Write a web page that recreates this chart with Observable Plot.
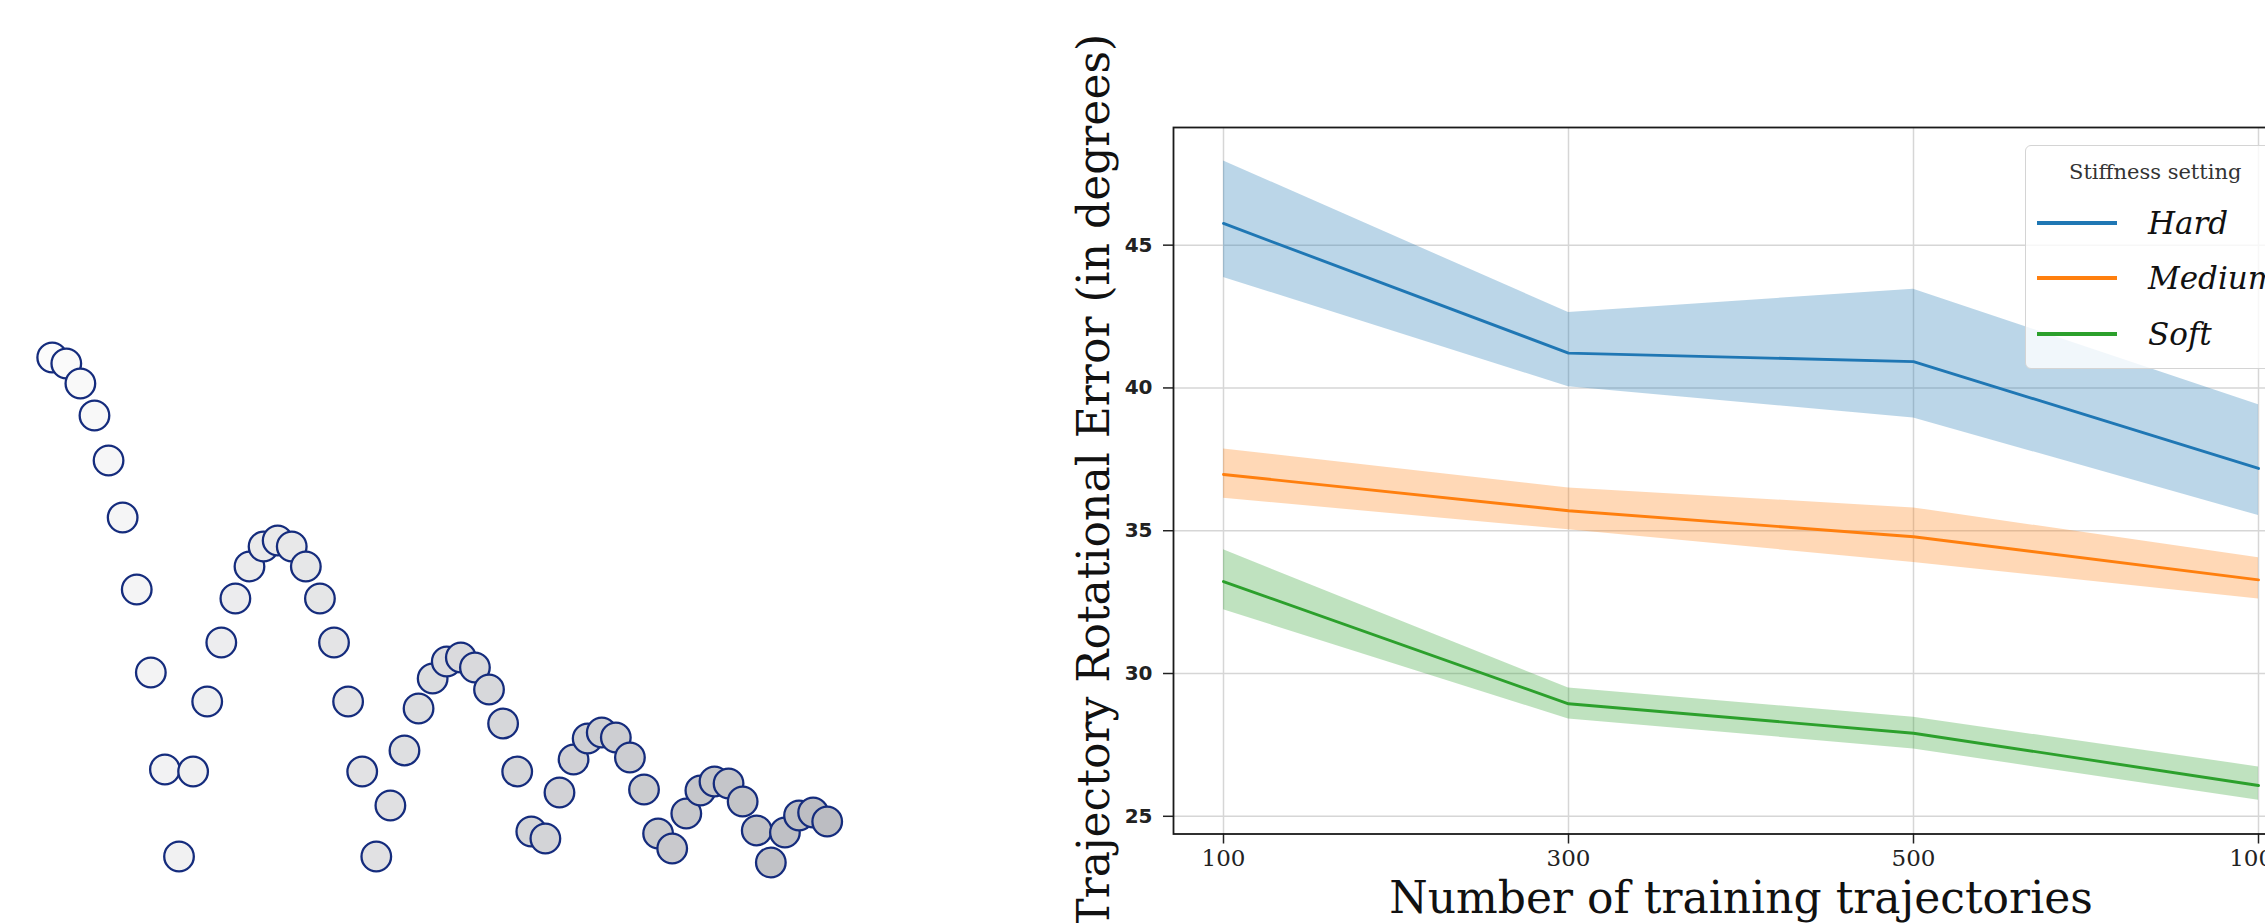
<!DOCTYPE html>
<html>
<head>
<meta charset="utf-8">
<script src="https://cdn.jsdelivr.net/npm/d3@7"></script>
<script src="https://cdn.jsdelivr.net/npm/@observablehq/plot@0.6"></script>
<style>
  html, body { margin: 0; padding: 0; background: #fff; overflow: hidden; width: 2265px; height: 923px; }
  #left { position: absolute; left: 0; top: 0; width: 1000px; }
  #right { position: absolute; left: 1030px; top: 0; width: 1300px; }
  #left svg, #right svg { max-width: none !important; display: block; }
  #legend { position: absolute; left: 2025px; top: 145px; width: 300px; height: 222px;
    border: 1.5px solid #d4d4d4; border-radius: 6px; background: rgba(255,255,255,0.8);
    font-family: "DejaVu Serif", serif; }
  #legend .title { position: absolute; left: 43px; top: 14px; font-size: 21px; color: #333; white-space: nowrap; }
  #legend .entry { position: absolute; left: 11px; height: 40px; white-space: nowrap; }
  #legend .swatch { position: absolute; left: 0; top: 18px; width: 80px; height: 3.5px; }
  #legend .lab { position: absolute; left: 111px; top: 0; font-size: 31px; font-style: italic; color: #111; line-height: 40px; }
</style>
</head>
<body>
<div id="left"></div>
<div id="right"></div>
<div id="legend"></div>
<script>
// ---- Left panel: bouncing trajectory (frame index, height) ----
const frameIndex = [0,1,2,3,4,5,6,7,8,9,10,11,12,13,14,15,16,17,18,19,20,21,22,23,24,25,26,27,
  28,29,30,31,32,33,34,35,36,37,38,39,40,41,42,43,44,45,46,47,48,49,50,51,52,53,54,55];
const ballHeight = [5.23,5.17,4.97,4.65,4.20,3.63,2.91,2.08,1.11,0.24,1.09,1.79,2.38,2.82,3.14,3.34,3.40,3.34,
  3.14,2.82,2.38,1.79,1.09,0.24,0.75,1.30,1.72,2.02,2.19,2.23,2.13,1.91,1.57,1.09,0.49,0.42,
  0.88,1.21,1.42,1.48,1.43,1.23,0.91,0.47,0.32,0.67,0.90,0.99,0.97,0.79,0.50,0.18,0.48,0.65,0.68,0.59];

// ---- Right panel: error vs number of training trajectories ----
const trainingSizes = ["100", "300", "500", "1000"];
const settings = ["Hard", "Medium", "Soft"];
const settingColors = ["#1f77b4", "#ff7f0e", "#2ca02c"];
const hardMean   = [45.76, 41.22, 40.92, 37.18];
const hardLow    = [43.87, 40.04, 38.95, 35.53];
const hardHigh   = [47.95, 42.64, 43.46, 39.41];
const mediumMean = [36.97, 35.70, 34.79, 33.28];
const mediumLow  = [36.14, 35.03, 33.89, 32.61];
const mediumHigh = [37.86, 36.50, 35.80, 34.05];
const softMean   = [33.22, 28.94, 27.91, 26.08];
const softLow    = [32.23, 28.41, 27.36, 25.56];
const softHigh   = [34.33, 29.49, 28.47, 26.73];
const yTicks = [25, 30, 35, 40, 45];
const yLabel = "Trajectory Rotational Error (in degrees)";
const xLabel = "Number of training trajectories";
const legendTitle = "Stiffness setting";

// left chart
const ballRows = frameIndex.map((f, i) => ({frame: f, h: ballHeight[i]}));
const left = Plot.plot({
  width: 1000, height: 923,
  margin: 0,
  x: {domain: [0, 55], range: [51.7, 826.7], axis: null},
  y: {domain: [0, 8.8], range: [880, 0], axis: null},
  color: {type: "linear", domain: [0, 55], range: ["#fbfbfb", "#bcbdc2"]},
  marks: [
    Plot.dot(ballRows, {x: "frame", y: "h", r: 14.8, fill: "frame", stroke: "#152c7d", strokeWidth: 2.3})
  ]
});
document.getElementById("left").append(left);

// right chart
const series = {Hard: [hardMean, hardLow, hardHigh], Medium: [mediumMean, mediumLow, mediumHigh], Soft: [softMean, softLow, softHigh]};
const rows = [];
for (const s of settings) {
  const [m, lo, hi] = series[s];
  trainingSizes.forEach((n, i) => rows.push({n, setting: s, mean: m[i], lo: lo[i], hi: hi[i]}));
}
const serif = "DejaVu Serif";
const right = Plot.plot({
  width: 1300, height: 923,
  marginLeft: 143, marginRight: 22, marginTop: 127, marginBottom: 89.5,
  style: {background: "transparent"},
  x: {type: "point", domain: trainingSizes, range: [193, 1228], padding: 0},
  y: {domain: [24.38, 49.12]},
  color: {domain: settings, range: settingColors},
  marks: [
    Plot.gridY(yTicks, {stroke: "#d6d6d6", strokeOpacity: 1, strokeWidth: 1.5}),
    Plot.gridX(trainingSizes, {stroke: "#d6d6d6", strokeOpacity: 1, strokeWidth: 1.5}),
    Plot.areaY(rows, {x: "n", y1: "lo", y2: "hi", z: "setting", fill: "setting", fillOpacity: 0.3}),
    Plot.lineY(rows, {x: "n", y: "mean", z: "setting", stroke: "setting", strokeWidth: 2.9}),
    Plot.axisY(yTicks, {tickSize: 10, tickPadding: 11, fontSize: 20, fontWeight: "bold", fontFamily: "DejaVu Sans", fill: "#222", stroke: "#222", strokeWidth: 1.5, label: null}),
    Plot.axisX(trainingSizes, {tickSize: 10, tickPadding: 6, fontSize: 23, fontFamily: serif, fill: "#222", stroke: "#222", strokeWidth: 1.5, label: null}),
    Plot.frame({stroke: "#1a1a1a", strokeWidth: 1.8}),
    Plot.text([yLabel], {text: d => d, frameAnchor: "left", dx: -79, rotate: -90, textAnchor: "middle", lineAnchor: "middle", fontSize: 44, fontFamily: serif, fill: "#111"}),
    Plot.text([xLabel], {text: d => d, frameAnchor: "bottom", dy: 64.5, textAnchor: "middle", lineAnchor: "middle", fontSize: 44, fontFamily: serif, fill: "#111"})
  ]
});
document.getElementById("right").append(right);

// legend
const lg = document.getElementById("legend");
const t = document.createElement("div");
t.className = "title"; t.textContent = legendTitle; lg.append(t);
const entryTops = [57, 112, 168];
settings.forEach((s, i) => {
  const e = document.createElement("div");
  e.className = "entry"; e.style.top = entryTops[i] + "px";
  const sw = document.createElement("div");
  sw.className = "swatch"; sw.style.background = settingColors[i];
  const lab = document.createElement("div");
  lab.className = "lab"; lab.textContent = s;
  e.append(sw, lab); lg.append(e);
});
</script>
</body>
</html>
